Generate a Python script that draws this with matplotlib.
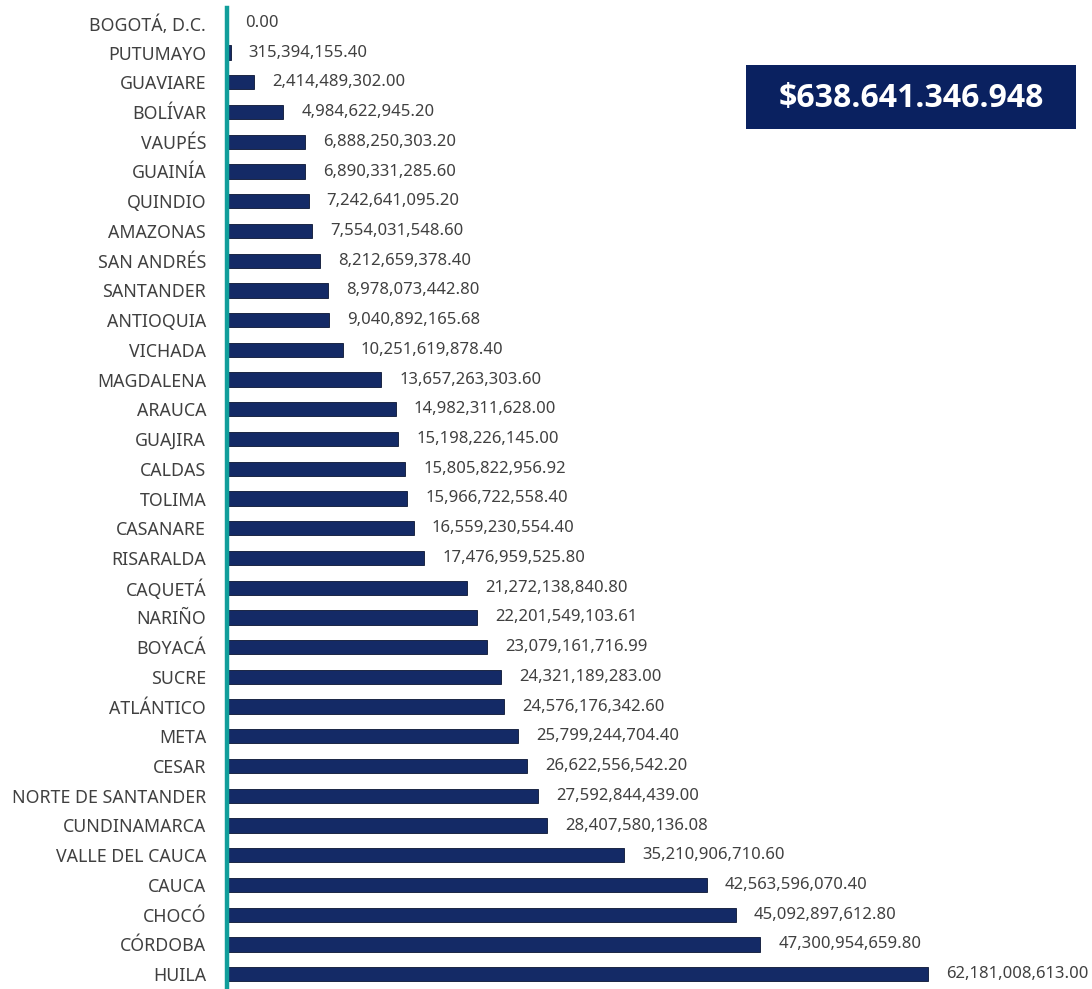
import matplotlib

matplotlib.use("Agg")

import matplotlib.pyplot as plt
from matplotlib.patches import Rectangle

departments = [
    "BOGOTÁ, D.C.", "PUTUMAYO", "GUAVIARE", "BOLÍVAR", "VAUPÉS", "GUAINÍA",
    "QUINDIO", "AMAZONAS", "SAN ANDRÉS", "SANTANDER", "ANTIOQUIA", "VICHADA",
    "MAGDALENA", "ARAUCA", "GUAJIRA", "CALDAS", "TOLIMA", "CASANARE",
    "RISARALDA", "CAQUETÁ", "NARIÑO", "BOYACÁ", "SUCRE", "ATLÁNTICO", "META",
    "CESAR", "NORTE DE SANTANDER", "CUNDINAMARCA", "VALLE DEL CAUCA", "CAUCA",
    "CHOCÓ", "CÓRDOBA", "HUILA",
]
values = [
    0.00, 315394155.40, 2414489302.00, 4984622945.20, 6888250303.20,
    6890331285.60, 7242641095.20, 7554031548.60, 8212659378.40,
    8978073442.80, 9040892165.68, 10251619878.40, 13657263303.60,
    14982311628.00, 15198226145.00, 15805822956.92, 15966722558.40,
    16559230554.40, 17476959525.80, 21272138840.80, 22201549103.61,
    23079161716.99, 24321189283.00, 24576176342.60, 25799244704.40,
    26622556542.20, 27592844439.00, 28407580136.08, 35210906710.60,
    42563596070.40, 45092897612.80, 47300954659.80, 62181008613.00,
]
total_label = "$638.641.346.948"

NAVY = "#142a66"
TEXT = "#404040"
TEAL = "#119e9b"
FONT = "Noto Sans"

fig = plt.figure(figsize=(10.92, 9.89), dpi=100)
ax = fig.add_axes([227 / 1092, 0.0, 1 - 227 / 1092, 981 / 989])

positions = range(len(departments))
ax.barh(positions, values, height=0.48, color=NAVY, edgecolor="#0a1533",
        linewidth=0.6)
for pos, val in zip(positions, values):
    ax.text(val + 1.6e9, pos, f"{val:,.2f}", va="center", ha="left",
            fontsize=12, color=TEXT, family=FONT)

ax.set_xlim(0, 76.7e9)
ax.set_ylim(len(departments) - 0.5, -0.5)
ax.set_yticks(list(positions), departments, fontsize=12.8, color=TEXT,
              family=FONT)
ax.tick_params(axis="y", length=0, pad=15)
ax.set_xticks([])
for side in ["top", "right", "bottom"]:
    ax.spines[side].set_visible(False)
ax.spines["left"].set_color(TEAL)
ax.spines["left"].set_linewidth(3.2)

box = Rectangle((746 / 1092, 1 - 129 / 989), 330 / 1092, 64 / 989,
                transform=fig.transFigure, facecolor="#0a2160",
                edgecolor="none")
fig.patches.append(box)
fig.text(911 / 1092, 1 - 98 / 989, total_label, ha="center", va="center",
         color="white", fontsize=23, fontweight="bold",
         family=["Open Sans", "DejaVu Sans"])

fig.savefig("out.png", dpi=100)
